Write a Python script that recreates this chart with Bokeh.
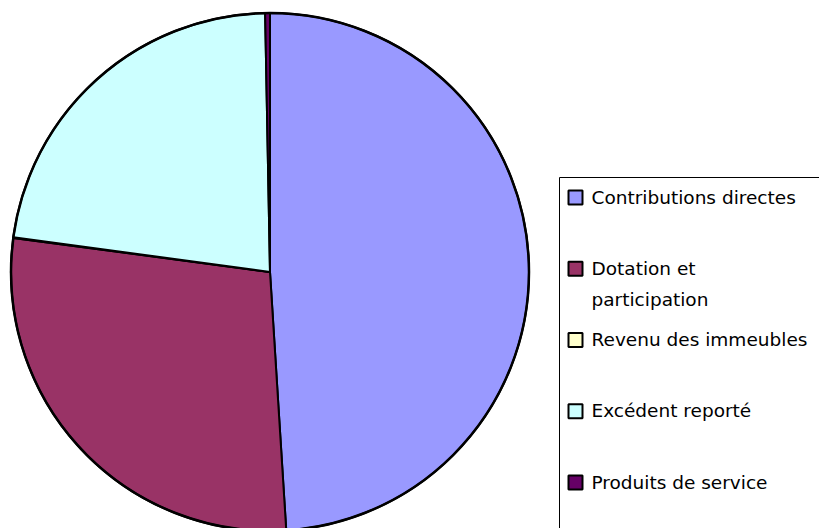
from math import pi
from bokeh.plotting import figure
from bokeh.models import Range1d, ColumnDataSource
from bokeh.embed import file_html
from bokeh.resources import INLINE
from bokeh.core.properties import value

# ---- data ----
categories = ["Contributions directes", "Dotation et participation",
              "Revenu des immeubles", "Excédent reporté", "Produits de service"]
legend_labels = ["Contributions directes", "Dotation et\nparticipation",
                 "Revenu des immeubles", "Excédent reporté", "Produits de service"]
values = [49.0, 28.1, 0.05, 22.55, 0.3]
colors = ["#9999FF", "#993366", "#FFFFCC", "#CCFFFF", "#660066"]

# ---- layout ----
W, H = 819, 528
FONT = "DejaVu Sans"

p = figure(width=W, height=H, x_range=Range1d(0, W), y_range=Range1d(0, H),
           output_backend="svg", toolbar_location=None, min_border=0)
p.axis.visible = False
p.grid.visible = False
p.outline_line_color = None
p.background_fill_color = "white"

# pie (data y = H - page_y)
cx, cy, R = 269.5, H - 271.5, 259
total = sum(values)
starts, ends = [], []
acc = 0.0
for v in values:
    starts.append(pi / 2 - 2 * pi * acc / total)
    acc += v
    ends.append(pi / 2 - 2 * pi * acc / total)

src = ColumnDataSource(dict(cat=categories, start=starts, end=ends, color=colors))
p.wedge(x=cx, y=cy, radius=R, start_angle="start", end_angle="end",
        direction="clock", fill_color="color", line_color="black",
        line_width=2, source=src)
p.circle(x=cx, y=cy, radius=R, fill_color=None, line_color="black", line_width=2.5)

# legend box
p.quad(left=559, right=W + 20, bottom=-20, top=H - 177, fill_color="white",
       line_color="black", line_width=1)

n = len(categories)
ys = [H - (197 + i * 71.25) for i in range(n)]
lsrc = ColumnDataSource(dict(y=ys, ty=[y + 11 for y in ys], color=colors, label=legend_labels))
p.rect(x=575, y="y", width=14, height=14, fill_color="color", line_color="black",
       line_width=2, source=lsrc)
p.text(x=591, y="ty", text="label", text_font=value(FONT), text_font_size="18.5px",
       text_baseline="top", text_align="left", text_color="black",
       text_line_height=1.5, source=lsrc)

open("out.html", "w").write(file_html(p, INLINE))
